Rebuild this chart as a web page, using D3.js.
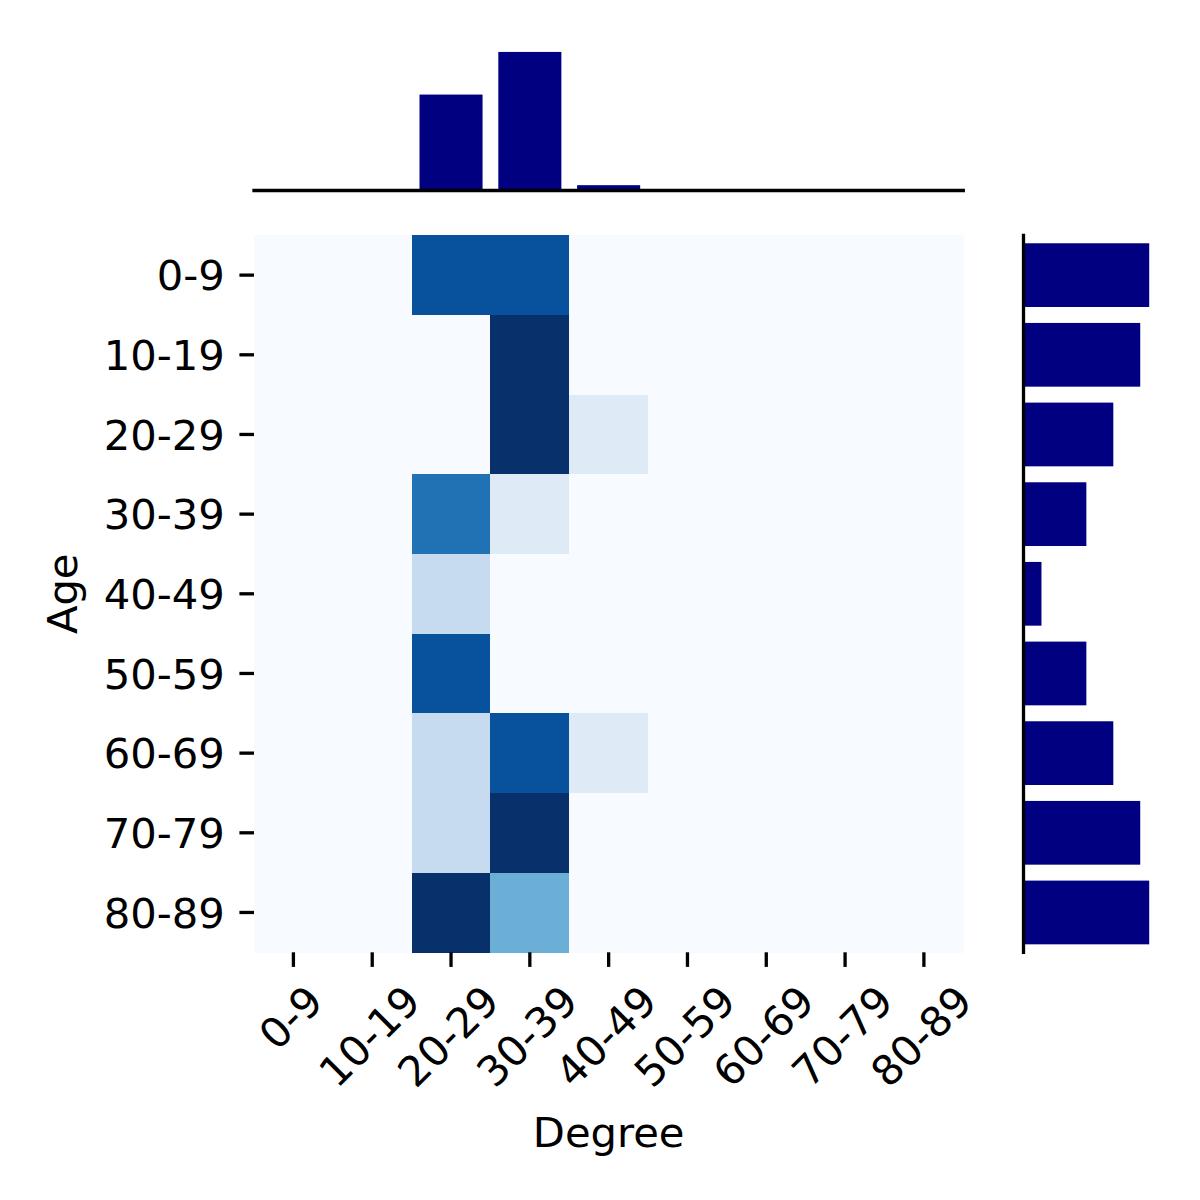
<!DOCTYPE html>
<html>
<head>
<meta charset="utf-8">
<script src="https://cdn.jsdelivr.net/npm/d3@7"></script>
<style>
  html, body { margin: 0; padding: 0; background: #fff; }
  svg { display: block; }
  text { font-family: "DejaVu Sans", sans-serif; fill: #000; }
</style>
</head>
<body>
<svg id="chart" width="1200" height="1200"></svg>
<script>
// ---- data ----
const ageBins = ["0-9","10-19","20-29","30-39","40-49","50-59","60-69","70-79","80-89"];
const degreeBins = ["0-9","10-19","20-29","30-39","40-49","50-59","60-69","70-79","80-89"];
// counts[ageIndex][degreeIndex]
const row0 = [0,0,7,7,0,0,0,0,0];
const row1 = [0,0,0,13,0,0,0,0,0];
const row2 = [0,0,0,9,1,0,0,0,0];
const row3 = [0,0,6,1,0,0,0,0,0];
const row4 = [0,0,2,0,0,0,0,0,0];
const row5 = [0,0,7,0,0,0,0,0,0];
const row6 = [0,0,2,7,1,0,0,0,0];
const row7 = [0,0,2,11,0,0,0,0,0];
const row8 = [0,0,10,4,0,0,0,0,0];
const counts = [row0,row1,row2,row3,row4,row5,row6,row7,row8];
const colorMax = 8;
const blues9 = ["#f7fbff","#deebf7","#c6dbef","#9ecae1","#6baed6","#4292c6","#2171b5","#08519c","#08306b"];

// ---- layout ----
const svg = d3.select("#chart");
const fs = 41.7;
const hm = {left: 254, right: 963.3, top: 235.3, bottom: 952.3};
const topM = {bottom: 190.5, top: 45};
const rightM = {left: 1023.5, right: 1155.5};
const tickLen = 14.6, tickPad = 14.6, lw = 3.3;

const x = d3.scaleBand().domain(degreeBins).range([hm.left, hm.right]).padding(0);
const y = d3.scaleBand().domain(ageBins).range([hm.top, hm.bottom]).padding(0);
const color = d3.scaleLinear()
  .domain(d3.range(blues9.length).map(i => i * colorMax / (blues9.length - 1)))
  .range(blues9).interpolate(d3.interpolateRgb).clamp(true);

// heatmap cells
const cells = [];
counts.forEach((row, i) => row.forEach((v, j) => cells.push({age: ageBins[i], deg: degreeBins[j], v})));
svg.append("g").selectAll("rect").data(cells).join("rect")
  .attr("x", d => x(d.deg)).attr("y", d => y(d.age))
  .attr("width", x.bandwidth() + 0.5).attr("height", y.bandwidth() + 0.5)
  .attr("fill", d => color(d.v)).attr("shape-rendering", "crispEdges");

// marginals
const colTotals = degreeBins.map((_, j) => d3.sum(counts, r => r[j]));
const rowTotals = counts.map(r => d3.sum(r));

const xb = d3.scaleBand().domain(degreeBins).range([hm.left, hm.right]).paddingInner(0.2).paddingOuter(0.1);
const yTop = d3.scaleLinear().domain([0, d3.max(colTotals) * 1.05]).range([topM.bottom, topM.top]);
svg.append("g").selectAll("rect").data(degreeBins).join("rect")
  .attr("x", d => xb(d)).attr("width", xb.bandwidth())
  .attr("y", (d, j) => yTop(colTotals[j]))
  .attr("height", (d, j) => yTop(0) - yTop(colTotals[j]))
  .attr("fill", "#000080");
svg.append("line")
  .attr("x1", hm.left - lw / 2).attr("x2", hm.right + lw / 2)
  .attr("y1", topM.bottom).attr("y2", topM.bottom)
  .attr("stroke", "#000").attr("stroke-width", lw);

const yb = d3.scaleBand().domain(ageBins).range([hm.top, hm.bottom]).paddingInner(0.2).paddingOuter(0.1);
const xRight = d3.scaleLinear().domain([0, d3.max(rowTotals) * 1.05]).range([rightM.left, rightM.right]);
svg.append("g").selectAll("rect").data(ageBins).join("rect")
  .attr("y", d => yb(d)).attr("height", yb.bandwidth())
  .attr("x", xRight(0))
  .attr("width", (d, i) => xRight(rowTotals[i]) - xRight(0))
  .attr("fill", "#000080");
svg.append("line")
  .attr("x1", rightM.left).attr("x2", rightM.left)
  .attr("y1", hm.top - lw / 2).attr("y2", hm.bottom + lw / 2)
  .attr("stroke", "#000").attr("stroke-width", lw);

// y axis (Age)
const gy = svg.append("g");
ageBins.forEach(a => {
  const cy = y(a) + y.bandwidth() / 2;
  gy.append("line").attr("x1", hm.left - tickLen).attr("x2", hm.left)
    .attr("y1", cy).attr("y2", cy).attr("stroke", "#000").attr("stroke-width", lw);
  gy.append("text").attr("x", hm.left - tickLen - tickPad).attr("y", cy + 0.365 * fs)
    .attr("text-anchor", "end").attr("font-size", fs).text(a);
});

// x axis (Degree)
const gx = svg.append("g");
const hText = 0.996 * fs;
degreeBins.forEach(dg => {
  const cx = x(dg) + x.bandwidth() / 2;
  gx.append("line").attr("x1", cx).attr("x2", cx)
    .attr("y1", hm.bottom).attr("y2", hm.bottom + tickLen).attr("stroke", "#000").attr("stroke-width", lw);
  const t = gx.append("text").attr("font-size", fs).attr("text-anchor", "middle").text(dg);
  const w = t.node().getComputedTextLength();
  const side = (w + hText) * Math.SQRT1_2;
  const cyc = hm.bottom + tickLen + tickPad + side / 2;
  t.attr("transform", `translate(${cx},${cyc}) rotate(-45)`)
   .attr("x", 0).attr("y", 0.26 * fs);
});

// axis labels
svg.append("text").attr("x", (hm.left + hm.right) / 2).attr("y", 1147)
  .attr("text-anchor", "middle").attr("font-size", fs).text("Degree");
svg.append("text").attr("transform", `translate(76.7,${(hm.top + hm.bottom) / 2}) rotate(-90)`)
  .attr("text-anchor", "middle").attr("font-size", fs).text("Age");
</script>
</body>
</html>
